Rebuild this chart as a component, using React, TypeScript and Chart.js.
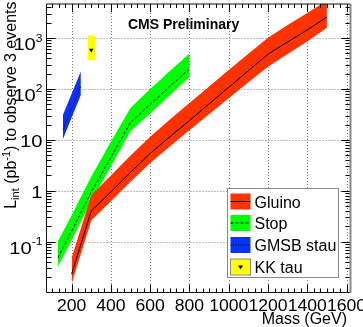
import React, { useEffect, useRef } from 'react';
import { Chart, registerables } from 'chart.js';

Chart.register(...registerables);

// ---- data ----
const gluinoMass = [200, 300, 400, 500, 600, 700, 800, 900, 1000, 1100, 1200, 1300, 1400, 1500];
const gluinoCenter = [0.023, 0.40, 0.95, 2.3, 5.4, 11.5, 24, 51, 108, 228, 485, 840, 1450, 2600];
const gluinoHigh = [0.048, 0.82, 2.0, 4.9, 11.5, 25, 53, 112, 235, 490, 1020, 1800, 3100, 5500];
const gluinoLow = [0.015, 0.26, 0.62, 1.5, 3.5, 7.4, 15.5, 32, 66, 135, 275, 485, 860, 1600];

const stopMass = [130, 200, 300, 400, 500, 600, 700, 800];
const stopCenter = [0.048, 0.16, 0.95, 4.5, 22, 50, 112, 250];
const stopHigh = [0.10, 0.33, 1.9, 9.2, 43, 100, 225, 500];
const stopLow = [0.032, 0.107, 0.63, 3.0, 14.7, 33, 75, 171];

const stauMass = [156, 200, 247];
const stauCenter = [16, 42, 115];
const stauHigh = [31, 81, 221];
const stauLow = [10.4, 27.5, 76];

const kkTauMass = [300];
const kkTauMassErr = [20];
const kkTauValue = [580];
const kkTauHigh = [1130];
const kkTauLow = [370];

const xTickValues = [200, 400, 600, 800, 1000, 1200, 1400, 1600];
const xTickLabels = ['200', '400', '600', '800', '1000', '1200', '1400', '1600'];
const yTickValues = [0.1, 1, 10, 100, 1000];
const yTickBase = ['10', '1', '10', '10', '10'];
const yTickSup = ['-1', '', '', '2', '3'];
const legendLabels = ['Gluino', 'Stop', 'GMSB stau', 'KK tau'];

const X_MIN = 72;
const X_MAX = 1620;
const Y_MIN = 0.01;
const Y_MAX = 4680;

const RED = '#ff3300';
const GREEN = '#00ff00';
const BLUE = '#0a34f5';
const YELLOW = '#ffff00';
const FONT = "'Liberation Sans', Arial, Helvetica, sans-serif";

const pts = (xs: number[], ys: number[]) => xs.map((x, i) => ({ x, y: ys[i] }));

function line(ctx: CanvasRenderingContext2D, x1: number, y1: number, x2: number, y2: number) {
  ctx.beginPath();
  ctx.moveTo(x1, y1);
  ctx.lineTo(x2, y2);
  ctx.stroke();
}

// draw text horizontally stretched by sx; anchor: 'left' | 'center' | 'right'
function stretchText(
  ctx: CanvasRenderingContext2D,
  text: string,
  x: number,
  y: number,
  sx: number,
  anchor: 'left' | 'center' | 'right'
) {
  const w = ctx.measureText(text).width * sx;
  const left = anchor === 'left' ? x : anchor === 'center' ? x - w / 2 : x - w;
  ctx.save();
  ctx.textAlign = 'left';
  ctx.translate(left, y);
  ctx.scale(sx, 1);
  ctx.fillText(text, 0, 0);
  ctx.restore();
  return w;
}

function downTriangle(ctx: CanvasRenderingContext2D, cx: number, cy: number, r: number) {
  ctx.beginPath();
  ctx.moveTo(cx - r, cy - r * 0.6);
  ctx.lineTo(cx + r, cy - r * 0.6);
  ctx.lineTo(cx, cy + r * 0.9);
  ctx.closePath();
  ctx.fill();
}

const decorPlugin = {
  id: 'decor',
  beforeDatasetsDraw(chart: any) {
    const { ctx, chartArea: a, scales } = chart;
    const x = scales.x;
    const y = scales.y;
    ctx.save();
    ctx.strokeStyle = '#7a7a7a';
    ctx.lineWidth = 1;
    ctx.setLineDash([1, 2]);
    xTickValues.forEach((v) => {
      const px = Math.round(x.getPixelForValue(v)) + 0.5;
      line(ctx, px, a.top, px, a.bottom);
    });
    yTickValues.forEach((v) => {
      const py = Math.round(y.getPixelForValue(v)) + 0.5;
      line(ctx, a.left, py, a.right, py);
    });
    ctx.restore();
  },
  afterDraw(chart: any) {
    const { ctx, chartArea: a, scales } = chart;
    const x = scales.x;
    const y = scales.y;
    ctx.save();
    ctx.setLineDash([]);
    ctx.strokeStyle = '#000';
    ctx.lineWidth = 1;

    // x ticks (bottom and top, inward)
    const xStep = 200 / 6;
    for (let k = -6; k <= 48; k++) {
      const v = 200 + k * xStep;
      if (v <= X_MIN || v >= X_MAX) continue;
      const major = k % 6 === 0;
      const len = major ? 8 : 4;
      const px = Math.round(x.getPixelForValue(v)) + 0.5;
      line(ctx, px, a.bottom, px, a.bottom - len);
      line(ctx, px, a.top, px, a.top + len);
    }
    // y ticks (left and right, inward)
    for (let d = -2; d <= 3; d++) {
      for (let m = 1; m <= 9; m++) {
        const v = m * Math.pow(10, d);
        if (v <= Y_MIN * 1.001 || v >= Y_MAX) continue;
        const len = m === 1 ? 9 : 5;
        const py = Math.round(y.getPixelForValue(v)) + 0.5;
        line(ctx, a.left, py, a.left + len, py);
        line(ctx, a.right, py, a.right - len, py);
      }
    }

    // frame
    ctx.strokeStyle = '#111';
    ctx.lineWidth = 1;
    line(ctx, a.left, a.top, a.right, a.top);
    line(ctx, a.left, a.top, a.left, a.bottom);
    line(ctx, a.left, a.bottom, a.right, a.bottom);
    ctx.strokeStyle = '#8a8a8a';
    ctx.lineWidth = 2;
    line(ctx, a.right, a.top, a.right, a.bottom);

    // x tick labels
    ctx.fillStyle = '#000';
    ctx.font = `16px ${FONT}`;
    ctx.textBaseline = 'alphabetic';
    xTickValues.forEach((v, i) => {
      stretchText(ctx, xTickLabels[i], x.getPixelForValue(v), a.bottom + 18, 1.1, 'center');
    });

    // y tick labels with superscripts
    yTickValues.forEach((v, i) => {
      const py = y.getPixelForValue(v);
      const base = yTickBase[i];
      const sup = yTickSup[i];
      const right = 42.5;
      const sxB = 1.22;
      const sxS = 1.1;
      ctx.font = `11px ${FONT}`;
      const supW = sup ? ctx.measureText(sup).width * sxS : 0;
      ctx.font = `16.5px ${FONT}`;
      const baseW = ctx.measureText(base).width * sxB;
      const x0 = right - supW - baseW;
      stretchText(ctx, base, x0, py + (sup ? 12 : 7.5), sxB, 'left');
      if (sup) {
        ctx.font = `11px ${FONT}`;
        stretchText(ctx, sup, x0 + baseW, py + 3.5, sxS, 'left');
      }
    });

    // x title
    ctx.font = `16px ${FONT}`;
    ctx.textAlign = 'right';
    ctx.fillText('Mass (GeV)', 347, 324);

    // y title (rotated), composed of parts
    const parts: [string, number, number][] = [
      ['L', 16, 0],
      ['int', 11, 3.5],
      [' (pb', 16, 0],
      ['-1', 11, -6],
      [') to observe 3 events', 16, 0],
    ];
    ctx.save();
    ctx.translate(15.5, 1.5);
    ctx.rotate(-Math.PI / 2);
    ctx.textAlign = 'left';
    let total = 0;
    parts.forEach(([t, s]) => {
      ctx.font = `${s}px ${FONT}`;
      total += ctx.measureText(t).width;
    });
    let cx = -total;
    parts.forEach(([t, s, dy]) => {
      ctx.font = `${s}px ${FONT}`;
      ctx.fillText(t, cx, dy);
      cx += ctx.measureText(t).width;
    });
    ctx.restore();

    // CMS Preliminary
    ctx.font = `bold 14px ${FONT}`;
    ctx.textAlign = 'left';
    ctx.fillText('CMS Preliminary', 128, 29);

    // legend
    const lx = 227.5, ly = 188.5, lw = 111, lh = 89;
    ctx.fillStyle = '#fff';
    ctx.fillRect(lx, ly, lw, lh);
    ctx.strokeStyle = '#8a8a8a';
    ctx.lineWidth = 1;
    ctx.strokeRect(lx, ly, lw, lh);
    const colors = [RED, GREEN, BLUE, YELLOW];
    const dashes = [[], [3, 2], [1, 1.5], []];
    const rowTop = [193.5, 215, 237, 259];
    legendLabels.forEach((label, i) => {
      const sx = 230.5, sw = 20, sh = 16;
      const sy = rowTop[i];
      ctx.fillStyle = colors[i];
      ctx.fillRect(sx, sy, sw, sh);
      if (i === 3) {
        ctx.strokeStyle = '#888';
        ctx.setLineDash([]);
        ctx.strokeRect(sx, sy, sw, sh);
        ctx.fillStyle = '#000';
        downTriangle(ctx, sx + sw / 2, sy + sh / 2, 2.6);
      } else {
        ctx.strokeStyle = '#000';
        ctx.setLineDash(dashes[i]);
        line(ctx, sx, sy + sh / 2, sx + sw, sy + sh / 2);
        ctx.setLineDash([]);
      }
      ctx.fillStyle = '#000';
      ctx.font = `16px ${FONT}`;
      ctx.textAlign = 'left';
      ctx.fillText(label, 254.5, sy + sh / 2 + 6);
    });
    ctx.restore();
  },
};

function band(xs: number[], hi: number[], lo: number[], color: string, order: number) {
  return [
    {
      label: 'hi',
      data: pts(xs, hi),
      fill: '+1',
      backgroundColor: color,
      borderWidth: 0,
      borderColor: color,
      pointRadius: 0,
      tension: 0,
      order,
    },
    {
      label: 'lo',
      data: pts(xs, lo),
      fill: false,
      borderWidth: 0,
      borderColor: color,
      pointRadius: 0,
      tension: 0,
      order,
    },
  ];
}

function centerLine(xs: number[], ys: number[], dash: number[], order: number) {
  return {
    label: 'c',
    data: pts(xs, ys),
    fill: false,
    borderColor: '#000',
    borderWidth: 1,
    borderDash: dash,
    pointRadius: 0,
    tension: 0,
    order,
  };
}

export default function App() {
  const ref = useRef<HTMLCanvasElement>(null);
  useEffect(() => {
    if (!ref.current) return;
    const kkX = [kkTauMass[0] - kkTauMassErr[0], kkTauMass[0] + kkTauMassErr[0]];
    const chart = new Chart(ref.current, {
      type: 'line',
      data: {
        datasets: [
          ...band(stopMass, stopHigh, stopLow, GREEN, 9),
          centerLine(stopMass, stopCenter, [3, 2], 8),
          ...band(gluinoMass, gluinoHigh, gluinoLow, RED, 7),
          centerLine(gluinoMass, gluinoCenter, [], 6),
          ...band(stauMass, stauHigh, stauLow, BLUE, 5),
          centerLine(stauMass, stauCenter, [1, 1.5], 4),
          ...band(kkX, [kkTauHigh[0], kkTauHigh[0]], [kkTauLow[0], kkTauLow[0]], YELLOW, 3),
          {
            label: 'kk',
            data: pts(kkTauMass, kkTauValue),
            showLine: false,
            pointStyle: 'triangle',
            rotation: 180,
            pointRadius: 2.6,
            backgroundColor: '#000',
            borderColor: '#000',
            borderWidth: 0,
            order: 1,
          } as any,
        ],
      },
      options: {
        animation: false,
        responsive: false,
        maintainAspectRatio: false,
        layout: { padding: { left: 0, top: 0.5, right: 12.5, bottom: 0 } },
        plugins: { legend: { display: false }, tooltip: { enabled: false } },
        events: [],
        scales: {
          x: {
            type: 'linear',
            min: X_MIN,
            max: X_MAX,
            afterBuildTicks: (s: any) => {
              s.ticks = xTickValues.map((v) => ({ value: v }));
            },
            afterFit: (s: any) => {
              s.height = 34.5;
            },
            ticks: { display: false },
            grid: { display: false },
            border: { display: false },
          },
          y: {
            type: 'logarithmic',
            min: Y_MIN,
            max: Y_MAX,
            afterBuildTicks: (s: any) => {
              s.ticks = yTickValues.map((v) => ({ value: v }));
            },
            afterFit: (s: any) => {
              s.width = 46.5;
            },
            ticks: { display: false },
            grid: { display: false },
            border: { display: false },
          },
        },
      } as any,
      plugins: [decorPlugin],
    });
    return () => chart.destroy();
  }, []);
  return (
    <div style={{ position: 'fixed', left: 0, top: 0, width: 363, height: 327, background: '#fff' }}>
      <canvas ref={ref} width={363} height={327} style={{ display: 'block', width: 363, height: 327 }} />
    </div>
  );
}
